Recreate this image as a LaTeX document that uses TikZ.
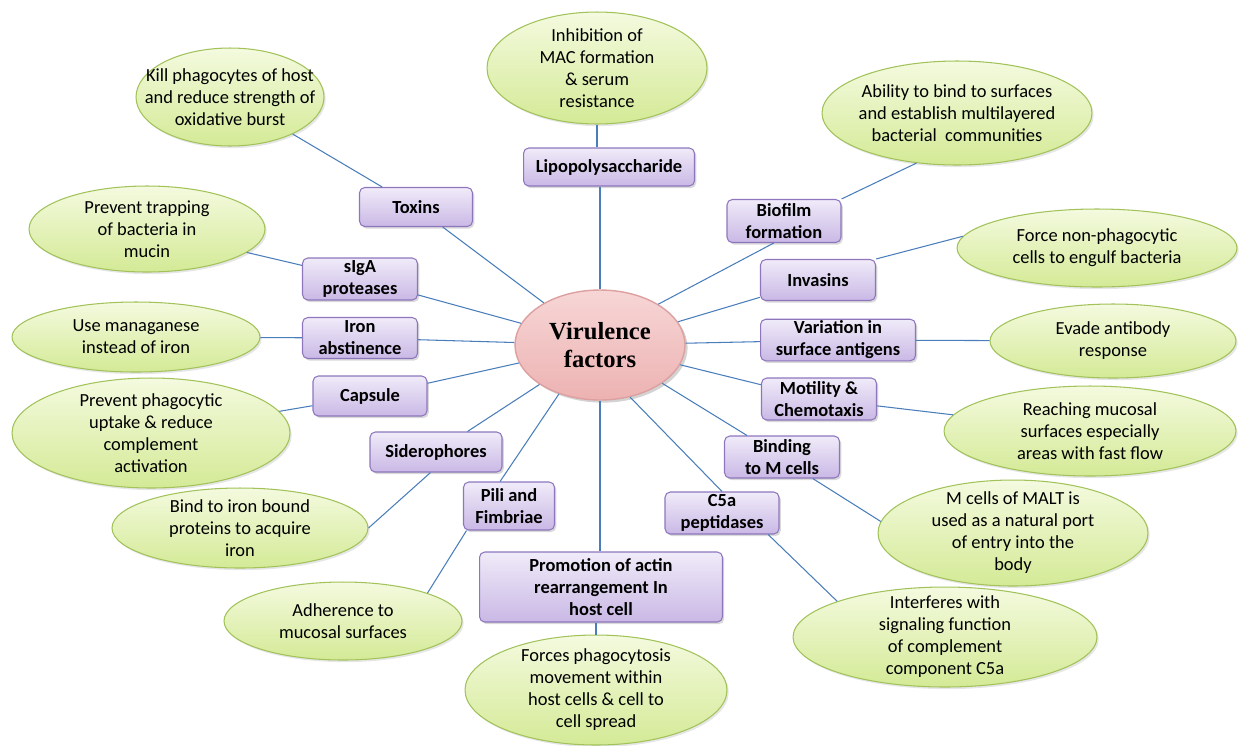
\documentclass[tikz,border=0pt]{standalone}
\usepackage{fontspec}
\setmainfont{Carlito}
\newfontfamily\vffont{Liberation Serif}
\usepackage{xcolor}
\definecolor{linkblue}{HTML}{4A7EBB}
\definecolor{boxline}{HTML}{8D76BC}
\definecolor{boxtop}{HTML}{F0EBF9}
\definecolor{boxbot}{HTML}{C9B8E5}
\definecolor{leafline}{HTML}{A2C25A}
\definecolor{leaftop}{HTML}{F4FADF}
\definecolor{leafbot}{HTML}{D4EA96}
\definecolor{vfline}{HTML}{DDA0A0}
\definecolor{vftop}{HTML}{F7D6D6}
\definecolor{vfbot}{HTML}{EDB2B2}
\usepackage{tikz}
\usetikzlibrary{shapes.geometric,shadows}

\begin{document}
\begin{tikzpicture}[x=0.02cm, y=-0.02cm,
    factor/.style={rectangle, rounded corners=3pt, draw=boxline, line width=0.6pt, top color=boxtop, bottom color=boxbot, font=\bfseries\fontsize{10.5}{12.5}\selectfont, align=center, inner sep=1pt, drop shadow={shadow xshift=1pt, shadow yshift=-1.2pt, opacity=0.3}},
    effect/.style={ellipse, draw=leafline, line width=0.6pt, top color=leaftop, bottom color=leafbot, font=\fontsize{10.5}{12.5}\selectfont, align=center, inner sep=-45pt, drop shadow={shadow xshift=1pt, shadow yshift=-1.2pt, opacity=0.2}},
    hub/.style={ellipse, draw=vfline, line width=0.8pt, top color=vftop, bottom color=vfbot, font=\vffont\bfseries\fontsize{14}{16}\selectfont, align=center, inner sep=-30pt, drop shadow={shadow xshift=1.5pt, shadow yshift=-1.5pt, opacity=0.35}},
    link/.style={draw=linkblue, line width=0.6pt},
  ]
    \useasboundingbox (0,0) rectangle (1239,745);

    \node[hub, minimum width=3.4cm, minimum height=2.2cm] (vf) at (600,345) {Virulence\\factors};

    % factors
    \node[factor, minimum width=3.42cm, minimum height=0.76cm] (lps) at (609,167) {Lipopolysaccharide};
    \node[factor, minimum width=2.26cm, minimum height=0.78cm] (tox) at (416,207) {Toxins};
    \node[factor, minimum width=2.28cm, minimum height=0.86cm] (bio) at (784,221) {Biofilm\\formation};
    \node[factor, minimum width=2.3cm, minimum height=0.84cm] (siga) at (360,279) {sIgA\\proteases};
    \node[factor, minimum width=2.3cm, minimum height=0.82cm] (inv) at (818,280) {Invasins};
    \node[factor, minimum width=2.3cm, minimum height=0.82cm] (iron) at (360,338) {Iron\\abstinence};
    \node[factor, minimum width=3.1cm, minimum height=0.82cm] (var) at (838,340) {Variation in\\surface antigens};
    \node[factor, minimum width=2.28cm, minimum height=0.8cm] (cap) at (370,396) {Capsule};
    \node[factor, minimum width=2.3cm, minimum height=0.84cm] (mot) at (819,399) {Motility \&\\Chemotaxis};
    \node[factor, minimum width=2.64cm, minimum height=0.8cm] (sid) at (436,452) {Siderophores};
    \node[factor, minimum width=2.3cm, minimum height=0.84cm] (bind) at (782,457) {Binding\\to M cells};
    \node[factor, minimum width=1.82cm, minimum height=0.96cm] (pili) at (509,506) {Pili and\\Fimbriae};
    \node[factor, minimum width=2.28cm, minimum height=0.84cm] (c5a) at (722,513) {C5a\\peptidases};
    \node[factor, minimum width=4.86cm, minimum height=1.4cm] (actin) at (601,587) {Promotion of actin\\rearrangement In\\host cell};

    % effects
    \node[effect, minimum width=3.76cm, minimum height=1.96cm] (kill) at (230,97) {Kill phagocytes of host\\and reduce strength of\\oxidative burst};
    \node[effect, minimum width=4.4cm, minimum height=2.24cm] (mac) at (597,68) {Inhibition of\\MAC formation\\\& serum\\resistance};
    \node[effect, minimum width=5.4cm, minimum height=2.08cm] (abil) at (957,113) {Ability to bind to surfaces\\and establish multilayered\\bacterial\ \ communities};
    \node[effect, minimum width=4.72cm, minimum height=1.72cm] (trap) at (147,229) {Prevent trapping\\of bacteria in\\mucin};
    \node[effect, minimum width=5.6cm, minimum height=1.56cm] (force) at (1097,248) {Force non-phagocytic\\cells to engulf bacteria};
    \node[effect, minimum width=4.96cm, minimum height=1.4cm] (mang) at (136,337) {Use managanese\\instead of iron};
    \node[effect, minimum width=4.92cm, minimum height=1.48cm] (evade) at (1113,341) {Evade antibody\\response};
    \node[effect, minimum width=5.56cm, minimum height=2.2cm] (prev) at (151,433) {Prevent phagocytic\\uptake \& reduce\\complement\\activation};
    \node[effect, minimum width=5.84cm, minimum height=1.8cm] (reach) at (1090,431) {Reaching mucosal\\surfaces especially\\areas with fast flow};
    \node[effect, minimum width=5.12cm, minimum height=1.6cm] (ironb) at (240,528) {Bind to iron bound\\proteins to acquire\\iron};
    \node[effect, minimum width=5.4cm, minimum height=2.12cm] (mcell) at (1013,533) {M cells of MALT is\\used as a natural port\\of entry into the\\body};
    \node[effect, minimum width=4.76cm, minimum height=1.56cm] (adh) at (343,621) {Adherence to\\mucosal surfaces};
    \node[effect, minimum width=6.08cm, minimum height=2cm] (interf) at (945,637) {Interferes with\\signaling function\\of complement\\component C5a};
    \node[effect, minimum width=5.24cm, minimum height=2.2cm] (forces) at (596,690) {Forces phagocytosis\\movement within\\host cells \& cell to\\cell spread};

    % links
    \draw[link] (vf.north) -- (vf.north |- lps.south);
    \draw[link] (lps.north -| mac.south) -- (mac.south);
    \draw[link] (vf) -- (tox);
    \draw[link] (tox) -- (kill);
    \draw[link] (vf) -- (siga);
    \draw[link] (siga) -- (trap);
    \draw[link] (vf) -- (iron);
    \draw[link] (iron) -- (mang);
    \draw[link] (vf) -- (cap);
    \draw[link] (cap) -- (prev);
    \draw[link] (vf) -- (sid);
    \draw[link] (sid.-105) -- (ironb.east);
    \draw[link] (vf.-130) -- (pili.110);
    \draw[link] (pili.-150) -- (adh.north east);
    \draw[link] (vf.south) -- (vf.south |- actin.north);
    \draw[link] (actin.south -| forces.north) -- (forces.north);
    \draw[link] (vf.-60) -- (c5a.north);
    \draw[link] (c5a.-25) -- (interf.north west);
    \draw[link] (vf) -- (bind);
    \draw[link] (bind.-35) -- (mcell.175);
    \draw[link] (vf) -- (mot);
    \draw[link] (mot) -- (reach);
    \draw[link] (vf) -- (var);
    \draw[link] (var) -- (evade);
    \draw[link] (vf) -- (inv);
    \draw[link] (inv.north east) -- (force.175);
    \draw[link] (vf.35) -- (bio.-115);
    \draw[link] (bio.north east) -- (abil.-129);
  \end{tikzpicture}
\end{document}
